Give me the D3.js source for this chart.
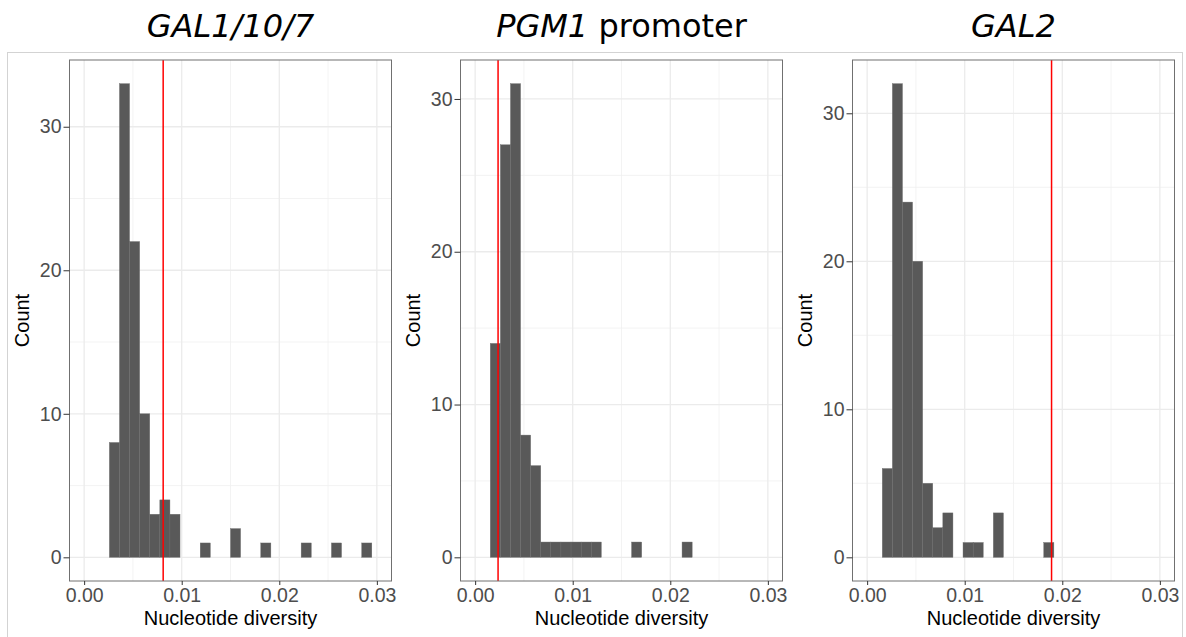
<!DOCTYPE html>
<html>
<head>
<meta charset="utf-8">
<script src="https://cdn.jsdelivr.net/npm/d3@7"></script>
<style>
  html, body { margin: 0; padding: 0; background: #ffffff; }
  svg { display: block; }
</style>
</head>
<body>
<svg id="chart" width="1186" height="637"></svg>
<script>
// Histogram bins: 30 bins over [0, 0.03], bin k centred at k * binWidth
const binCount = 30;
const xLimits = [0, 0.03];
const binWidth = (xLimits[1] - xLimits[0]) / (binCount - 1);

// Counts per bin (index k = 0..29)
const gal1Counts = [0,0,0,8,33,22,10,3,4,3,0,0,1,0,0,2,0,0,1,0,0,0,1,0,0,1,0,0,1,0];
const pgm1Counts = [0,0,14,27,31,8,6,1,1,1,1,1,1,0,0,0,1,0,0,0,0,1,0,0,0,0,0,0,0,0];
const gal2Counts = [0,0,6,32,24,20,5,2,3,0,1,1,0,3,0,0,0,0,1,0,0,0,0,0,0,0,0,0,0,0];

// Reference diversity value for each region (red line)
const refValues = [0.0081, 0.00235, 0.0189];

const xTickValues = [0, 0.01, 0.02, 0.03];
const xMinorValues = [0.005, 0.015, 0.025];
const yTickValues = [0, 10, 20, 30];
const yMinorValues = [5, 15, 25];

const panels = [
  { title: [{ text: "GAL1/10/7", italic: true }], counts: gal1Counts, ref: refValues[0], x0: 69.5, x1: 391.5 },
  { title: [{ text: "PGM1", italic: true }, { text: " promoter", italic: false }], counts: pgm1Counts, ref: refValues[1], x0: 460.5, x1: 782.5 },
  { title: [{ text: "GAL2", italic: true }], counts: gal2Counts, ref: refValues[2], x0: 852.5, x1: 1174.5 }
];

const svg = d3.select("#chart");
const plotTop = 60, plotBottom = 581;
const textFont = "'Liberation Sans', Arial, Helvetica, sans-serif";

// outer frame
svg.append("rect")
  .attr("x", 7.5).attr("y", 52.5)
  .attr("width", 1175).attr("height", 620)
  .attr("fill", "none").attr("stroke", "#d3d3d3").attr("stroke-width", 1);

panels.forEach(p => {
  const g = svg.append("g");
  const span = xLimits[1] - xLimits[0];
  const x = d3.scaleLinear()
    .domain([xLimits[0] - 0.05 * span, xLimits[1] + 0.05 * span])
    .range([p.x0, p.x1]);
  const maxCount = d3.max(p.counts);
  const y = d3.scaleLinear()
    .domain([-0.05 * maxCount, 1.05 * maxCount])
    .range([plotBottom, plotTop]);

  // panel background
  g.append("rect")
    .attr("x", p.x0).attr("y", plotTop)
    .attr("width", p.x1 - p.x0).attr("height", plotBottom - plotTop)
    .attr("fill", "#ffffff");

  // minor grid
  g.selectAll(".xminor").data(xMinorValues).join("line")
    .attr("x1", d => x(d)).attr("x2", d => x(d))
    .attr("y1", plotTop).attr("y2", plotBottom)
    .attr("stroke", "#f0f0f0").attr("stroke-width", 0.8);
  g.selectAll(".yminor").data(yMinorValues.filter(v => v < y.domain()[1])).join("line")
    .attr("x1", p.x0).attr("x2", p.x1)
    .attr("y1", d => y(d)).attr("y2", d => y(d))
    .attr("stroke", "#f0f0f0").attr("stroke-width", 0.8);
  // major grid
  g.selectAll(".xmajor").data(xTickValues).join("line")
    .attr("x1", d => x(d)).attr("x2", d => x(d))
    .attr("y1", plotTop).attr("y2", plotBottom)
    .attr("stroke", "#ebebeb").attr("stroke-width", 1.3);
  g.selectAll(".ymajor").data(yTickValues.filter(v => v < y.domain()[1])).join("line")
    .attr("x1", p.x0).attr("x2", p.x1)
    .attr("y1", d => y(d)).attr("y2", d => y(d))
    .attr("stroke", "#ebebeb").attr("stroke-width", 1.3);

  // histogram bars
  const bins = p.counts.map((c, k) => ({ lo: (k - 0.5) * binWidth, hi: (k + 0.5) * binWidth, count: c }))
    .filter(b => b.count > 0);
  g.selectAll(".bar").data(bins).join("rect")
    .attr("x", d => x(d.lo))
    .attr("width", d => x(d.hi) - x(d.lo))
    .attr("y", d => y(d.count))
    .attr("height", d => y(0) - y(d.count))
    .attr("fill", "#595959")
    .attr("stroke", "#6a6a6a").attr("stroke-width", 0.4);

  // reference line
  g.append("line")
    .attr("x1", x(p.ref)).attr("x2", x(p.ref))
    .attr("y1", plotTop).attr("y2", plotBottom)
    .attr("stroke", "#ff0000").attr("stroke-width", 1.5);

  // panel border
  g.append("rect")
    .attr("x", p.x0).attr("y", plotTop)
    .attr("width", p.x1 - p.x0).attr("height", plotBottom - plotTop)
    .attr("fill", "none").attr("stroke", "#707070").attr("stroke-width", 1);

  // axes
  const xAxis = d3.axisBottom(x).tickValues(xTickValues).tickFormat(d3.format(".2f"))
    .tickSize(4).tickPadding(3.5);
  const xg = g.append("g").attr("transform", `translate(0,${plotBottom})`).call(xAxis);
  const yAxis = d3.axisLeft(y).tickValues(yTickValues.filter(v => v < y.domain()[1]))
    .tickFormat(d3.format("d")).tickSize(6).tickPadding(2);
  const yg = g.append("g").attr("transform", `translate(${p.x0},0)`).call(yAxis);
  [xg, yg].forEach(a => {
    a.select(".domain").remove();
    a.selectAll(".tick line").attr("stroke", "#333333").attr("stroke-width", 1);
    a.selectAll(".tick text")
      .attr("fill", "#4d4d4d")
      .style("font-family", textFont)
      .style("font-size", "19.5px");
  });

  // axis titles
  const cx = (p.x0 + p.x1) / 2;
  g.append("text")
    .attr("x", cx).attr("y", 625)
    .attr("text-anchor", "middle")
    .style("font-family", textFont).style("font-size", "20px")
    .attr("fill", "#000000")
    .text("Nucleotide diversity");
  g.append("text")
    .attr("transform", `translate(${p.x0 - 40.5},${(plotTop + plotBottom) / 2}) rotate(-90)`)
    .attr("text-anchor", "middle")
    .style("font-family", textFont).style("font-size", "20px")
    .attr("fill", "#000000")
    .text("Count");

  // panel title
  const t = svg.append("text")
    .attr("x", cx).attr("y", 37)
    .attr("text-anchor", "middle")
    .style("font-family", "'DejaVu Sans', sans-serif")
    .style("font-size", "32px")
    .attr("fill", "#000000");
  p.title.forEach(part => {
    t.append("tspan")
      .style("font-style", part.italic ? "italic" : "normal")
      .text(part.text);
  });
});
</script>
</body>
</html>
